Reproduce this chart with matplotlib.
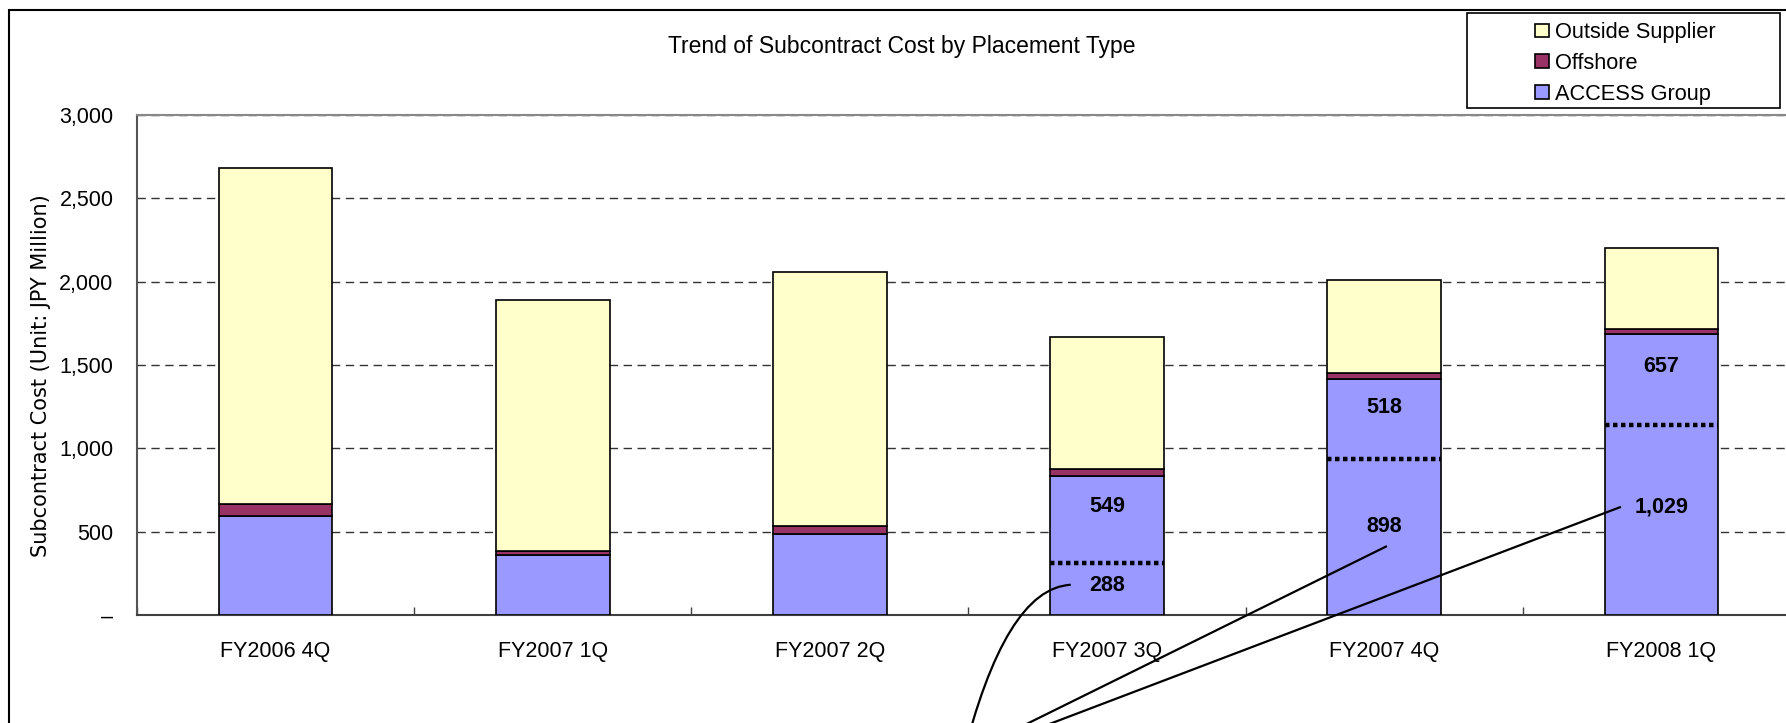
import matplotlib.pyplot as plt
from matplotlib.patches import Patch, Rectangle, PathPatch
from matplotlib.path import Path
from matplotlib.ticker import FuncFormatter

quarters = ['FY2006 4Q', 'FY2007 1Q', 'FY2007 2Q', 'FY2007 3Q', 'FY2007 4Q', 'FY2008 1Q']
access = [594, 359, 488, 837, 1416, 1686]
offshore = [75, 23, 46, 38, 38, 28]
outside = [2014, 1510, 1522, 796, 556, 489]

# split of ACCESS Group shown for the last three quarters
split_idx = [3, 4, 5]
split_lower = [288, 898, 1029]
split_upper = [549, 518, 657]
split_mark = [313, 934, 1141]

plt.rcParams['font.family'] = ['Liberation Sans', 'DejaVu Sans']

W, H = 1786, 723
fig = plt.figure(figsize=(W / 100, H / 100), dpi=100)
ax = fig.add_axes([137 / W, 1 - 615 / H, 1663 / W, 500 / H])

x = list(range(len(quarters)))
bw = 0.41
ec = 'black'
ax.bar(x, access, bw, color='#9999FF', edgecolor=ec, linewidth=1.2, label='ACCESS Group', zorder=3)
ax.bar(x, offshore, bw, bottom=access, color='#993366', edgecolor=ec, linewidth=1.2, label='Offshore', zorder=3)
base3 = [a + o for a, o in zip(access, offshore)]
ax.bar(x, outside, bw, bottom=base3, color='#FFFFCC', edgecolor=ec, linewidth=1.2, label='Outside Supplier', zorder=3)

# dotted split marks and value labels
lower_pos = {}
for i, lo, up, m in zip(split_idx, split_lower, split_upper, split_mark):
    ax.hlines(m, i - bw / 2, i + bw / 2, colors='black', linestyles=(0, (1, 0.8)), lw=3.2, zorder=4)
    ylo = m * 0.57
    yup = m + 0.64 * (access[i] - m)
    lower_pos[i] = ylo
    ax.text(i, ylo, f'{lo:,}', ha='center', va='center', fontsize=15.5, fontweight='bold', zorder=5)
    ax.text(i, yup, f'{up:,}', ha='center', va='center', fontsize=15.5, fontweight='bold', zorder=5)

# leader lines running off the bottom of the chart
end_y = -881
curve = Path([(2.869, lower_pos[3] + 3), (2.631, 162), (2.476, end_y)],
             [Path.MOVETO, Path.CURVE3, Path.CURVE3])
ax.add_patch(PathPatch(curve, fill=False, lw=1.6, ec='black', clip_on=False, zorder=6))
ax.plot([4.006, 2.433], [lower_pos[4] - 122, end_y], color='black', lw=1.6, clip_on=False, zorder=6)
ax.plot([4.85, 2.433], [lower_pos[5] - 4, end_y], color='black', lw=1.6, clip_on=False, zorder=6)

ax.set_xlim(-0.5, len(quarters) - 0.5)
ax.set_ylim(0, 3000)
ax.set_yticks([0, 500, 1000, 1500, 2000, 2500, 3000])
ax.yaxis.set_major_formatter(FuncFormatter(lambda v, p: '–' if v == 0 else f'{int(v):,}'))
ax.set_xticks(x)
ax.set_xticklabels(quarters)
ax.set_xticks([i + 0.5 for i in range(-1, len(quarters))], minor=True)
ax.tick_params(axis='x', which='major', length=0, pad=19, labelsize=15.5)
ax.tick_params(axis='x', which='minor', direction='in', length=6, color='#404040', width=1)
ax.tick_params(axis='y', length=0, pad=17, labelsize=15.5)

ax.yaxis.grid(True, linestyle=(0, (6, 4)), color='#333333', lw=1)
ax.set_axisbelow(True)
ax.spines['right'].set_visible(False)
ax.spines['top'].set_color('#888888')
ax.spines['top'].set_linewidth(1.5)
ax.spines['left'].set_color('#555555')
ax.spines['left'].set_linewidth(1.5)
ax.spines['bottom'].set_color('#404040')
ax.spines['bottom'].set_linewidth(1.5)

ax.set_ylabel('Subcontract Cost (Unit: JPY Million)', fontsize=15, family=['DejaVu Sans'])
ax.yaxis.set_label_coords(-0.0520, 0.478)

fig.text(902 / W, 1 - 46 / H, 'Trend of Subcontract Cost by Placement Type',
         ha='center', va='center', fontsize=16.5)

# outer chart frame
fig.add_artist(Rectangle((9 / W, -0.05), 1.0, 1.05 - 10 / H, transform=fig.transFigure,
                         fill=False, ec='black', lw=1.5))

# legend
fig.add_artist(Rectangle((1467 / W, 1 - 108 / H), 313 / W, 95 / H, transform=fig.transFigure,
                         fill=False, ec='black', lw=1.2))
handles = [Patch(facecolor='#FFFFCC', edgecolor='black', lw=1.2, label='Outside Supplier'),
           Patch(facecolor='#993366', edgecolor='black', lw=1.2, label='Offshore'),
           Patch(facecolor='#9999FF', edgecolor='black', lw=1.2, label='ACCESS Group')]
fig.legend(handles=handles, loc='upper left', bbox_to_anchor=(1535 / W, 1 - 22 / H),
           frameon=False, fontsize=15.7, handlelength=0.64, handleheight=0.56,
           handletextpad=0.3, labelspacing=0.45, borderpad=0, borderaxespad=0)

fig.savefig('out.png', dpi=100)
